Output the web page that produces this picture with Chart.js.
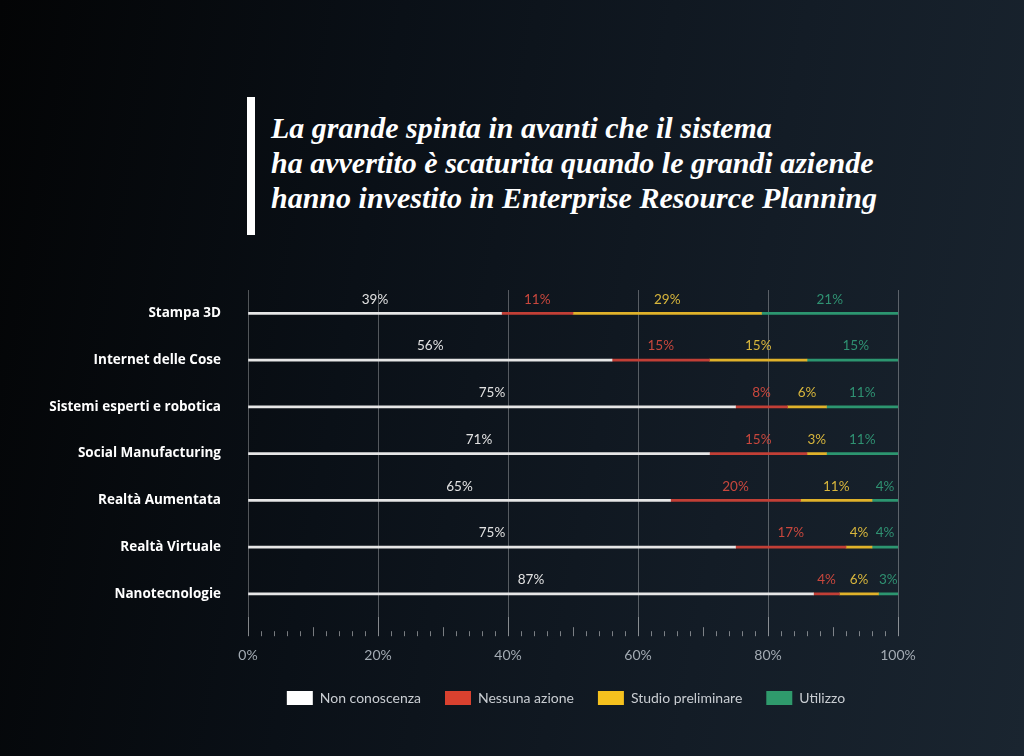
<!DOCTYPE html>
<html>
<head>
<meta charset="utf-8">
<script src="https://cdn.jsdelivr.net/npm/chart.js@4.4.0/dist/chart.umd.min.js"></script>
<style>
  html, body { margin: 0; padding: 0; }
  body {
    width: 1024px; height: 756px; overflow: hidden; position: relative;
    background: linear-gradient(100deg, #030405 0%, #0a1017 35%, #131c26 70%, #1a2530 100%);
  }
  #bar { position: absolute; left: 247px; top: 97px; width: 8px; height: 138px; background: #fff; }
  #title {
    position: absolute; left: 271px; top: 110px;
    font-family: "Liberation Serif", serif; font-style: italic; font-weight: bold;
    font-size: 30px; line-height: 35px; color: #fff; white-space: nowrap;
  }
  #wrap { position: absolute; left: 0; top: 0; width: 1024px; height: 756px; }
</style>
</head>
<body>
<div id="bar"></div>
<div id="title">La grande spinta in avanti che il sistema<br>ha avvertito è scaturita quando le grandi aziende<br>hanno investito in Enterprise Resource Planning</div>
<div id="wrap"><canvas id="chart"></canvas></div>
<script>
var categories = ["Stampa 3D", "Internet delle Cose", "Sistemi esperti e robotica", "Social Manufacturing", "Realtà Aumentata", "Realtà Virtuale", "Nanotecnologie"];
var nonConoscenza = [39, 56, 75, 71, 65, 75, 87];
var nessunaAzione = [11, 15, 8, 15, 20, 17, 4];
var studioPreliminare = [29, 15, 6, 3, 11, 4, 6];
var utilizzo = [21, 15, 11, 11, 4, 4, 3];
var xTicks = [0, 20, 40, 60, 80, 100];

var seriesNames = ["Non conoscenza", "Nessuna azione", "Studio preliminare", "Utilizzo"];
var lineColors = ["#e6e6e6", "#c23f36", "#e0b22a", "#2c9670"];
var boxColors = ["#ffffff", "#d9412f", "#f5c11e", "#2f9a6c"];
var labelColors = ["#e2e2e2", "#c8473d", "#d8b63c", "#2f9172"];

// percent labels over each segment
var segmentLabels = {
  id: "segmentLabels",
  afterDatasetsDraw: function(chart) {
    var ctx = chart.ctx;
    ctx.save();
    ctx.font = "13.5px Lato";
    ctx.textAlign = "center";
    ctx.textBaseline = "middle";
    chart.data.datasets.forEach(function(ds, i) {
      var meta = chart.getDatasetMeta(i);
      meta.data.forEach(function(bar, j) {
        ctx.fillStyle = labelColors[i];
        ctx.fillText(ds.data[j] + "%", (bar.x + bar.base) / 2, bar.y - 14);
      });
    });
    ctx.restore();
  }
};

// small ticks along the bottom of the x axis
var minorTicks = {
  id: "minorTicks",
  afterDraw: function(chart) {
    var ctx = chart.ctx;
    var x = chart.scales.x;
    var bottom = chart.chartArea.bottom + 19;
    ctx.save();
    ctx.strokeStyle = "rgba(255,255,255,0.45)";
    ctx.lineWidth = 1;
    for (var v = 2; v < 100; v += 2) {
      if (v % 20 === 0) continue;
      var len = v % 10 === 0 ? 9 : 5;
      var px = Math.round(x.getPixelForValue(v)) + 0.5;
      ctx.beginPath();
      ctx.moveTo(px, bottom - len);
      ctx.lineTo(px, bottom);
      ctx.stroke();
    }
    ctx.restore();
  }
};

// legend sits centred under the plot, not under the whole box
var moveLegend = {
  id: "moveLegend",
  afterLayout: function(chart) {
    var lg = chart.legend;
    lg.left += 97; lg.right += 97;
    lg.top -= 1; lg.bottom -= 1;
  }
};

var allData = [nonConoscenza, nessunaAzione, studioPreliminare, utilizzo];

new Chart(document.getElementById("chart"), {
  type: "bar",
  data: {
    labels: categories,
    datasets: allData.map(function(d, i) {
      return {
        label: seriesNames[i],
        data: d,
        backgroundColor: lineColors[i],
        barThickness: 2,
        borderWidth: 0
      };
    })
  },
  options: {
    indexAxis: "y",
    responsive: true,
    maintainAspectRatio: false,
    animation: false,
    layout: { padding: { left: 40, right: 126, top: 290, bottom: 40 } },
    scales: {
      x: {
        stacked: true,
        min: 0,
        max: 100,
        afterBuildTicks: function(scale) {
          scale.ticks = xTicks.map(function(v) { return { value: v }; });
        },
        afterFit: function(scale) { scale.height = scale.height - 7; },
        ticks: {
          color: "#a3abb3",
          font: { family: "Lato", size: 14 },
          padding: 11,
          callback: function(v) { return v + "%"; }
        },
        grid: { color: "rgba(255,255,255,0.3)", tickLength: 19, tickColor: "rgba(255,255,255,0.5)" },
        border: { display: false }
      },
      y: {
        stacked: true,
        afterFit: function(scale) { scale.width = 208; },
        ticks: {
          color: "#ffffff",
          font: { family: "Open Sans", size: 13.5, weight: "bold" },
          padding: 27
        },
        grid: { display: false, drawTicks: false },
        border: { display: false }
      }
    },
    plugins: {
      tooltip: { enabled: false },
      legend: {
        position: "bottom",
        labels: {
          color: "#c9cdd2",
          font: { family: "Lato", size: 14 },
          boxWidth: 26,
          boxHeight: 14,
          padding: 24,
          generateLabels: function(chart) {
            return seriesNames.map(function(n, i) {
              return { text: n, fillStyle: boxColors[i], strokeStyle: boxColors[i], lineWidth: 0, fontColor: "#c9cdd2", datasetIndex: i };
            });
          }
        }
      }
    }
  },
  plugins: [segmentLabels, minorTicks, moveLegend]
});
</script>
</body>
</html>
